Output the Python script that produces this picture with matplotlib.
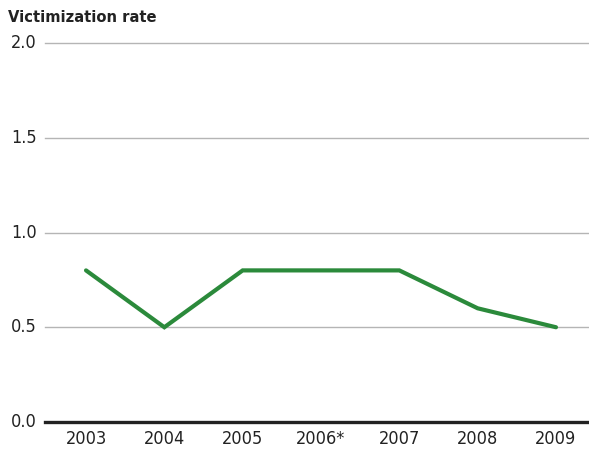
import matplotlib.pyplot as plt

# Data
years = ["2003", "2004", "2005", "2006*", "2007", "2008", "2009"]
rates = [0.8, 0.5, 0.8, 0.8, 0.8, 0.6, 0.5]
y_ticks = [0.0, 0.5, 1.0, 1.5, 2.0]

plt.rcParams['font.family'] = ['DejaVu Sans']
plt.rcParams['font.stretch'] = 'condensed'

fig = plt.figure(figsize=(5.89, 4.55), dpi=100)
ax = fig.add_axes([45 / 589, 1 - 422 / 455, 1 - 45 / 589, (422 - 43) / 455])

x = list(range(len(years)))
ax.plot(x, rates, color="#2b8a3b", linewidth=3.0, solid_capstyle="round",
        solid_joinstyle="miter", zorder=3)

ax.set_xlim(-41 / 78.3, 6 + 33 / 78.3)
ax.set_ylim(0, 2.0)

ax.set_yticks(y_ticks)
ax.set_yticklabels([f"{v:.1f}" for v in y_ticks], fontsize=13, color="#222222")
ax.set_xticks(x)
ax.set_xticklabels(years, fontsize=13, color="#222222")

for v in y_ticks[1:]:
    ax.axhline(v, color="#b5b5b5", linewidth=1.0, zorder=1, clip_on=False)
ax.axhline(0, color="#222222", linewidth=2.4, zorder=2, clip_on=False)

for s in ax.spines.values():
    s.set_visible(False)
ax.tick_params(axis="both", length=0)
ax.tick_params(axis="y", pad=6)
ax.tick_params(axis="x", pad=6)
for lab in ax.get_yticklabels():
    lab.set_verticalalignment("center")

fig.text(8 / 589, 1 - 18 / 455, "Victimization rate", fontsize=11.8,
         fontweight="bold", color="#222222", va="center", ha="left")

fig.savefig("out.png", dpi=100)
